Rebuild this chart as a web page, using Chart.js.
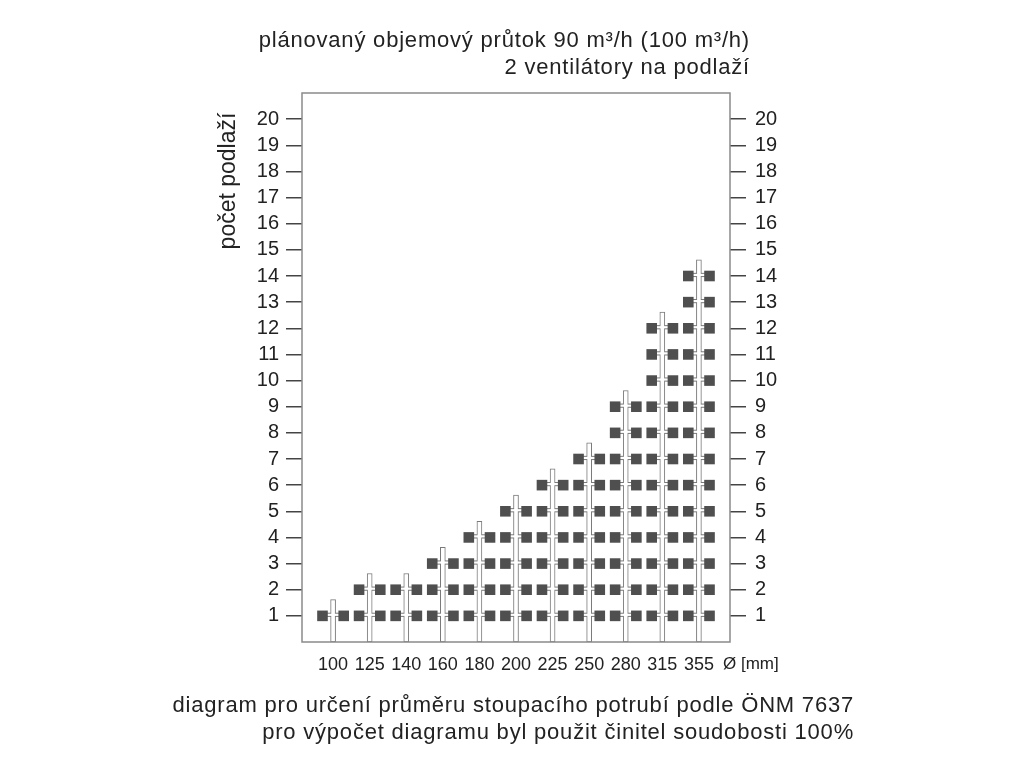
<!DOCTYPE html>
<html lang="cs">
<head>
  <meta charset="UTF-8">
  <title>Diagram stoupacího potrubí</title>
  <script src="https://cdn.jsdelivr.net/npm/chart.js"></script>
  <style>
    body { margin: 0; background: #fff; }
    #wrap { position: relative; width: 1024px; height: 768px; }
    canvas { position: absolute; left: 0; top: 0; }
    .txt {
      position: absolute; font-family: 'Liberation Sans', Arial, sans-serif;
      font-size: 22px; letter-spacing: 0.8px; color: #222; text-align: right; line-height: 27px; white-space: nowrap;
    }
  </style>
</head>
<body>
<div id="wrap">
  <canvas id="chart" width="1024" height="768"></canvas>
  <div class="txt" style="right:274px; top:26px;">plánovaný objemový průtok 90 m³/h (100 m³/h)<br>2 ventilátory na podlaží</div>
  <div class="txt" style="right:170px; top:691px;">diagram pro určení průměru stoupacího potrubí podle ÖNM 7637<br>pro výpočet diagramu byl použit činitel soudobosti 100%</div>
</div>

<script>
  // průměry potrubí a počet podlaží pro každý průměr
  const diameters = [100, 125, 140, 160, 180, 200, 225, 250, 280, 315, 355];
  const floors = [1, 2, 2, 3, 4, 5, 6, 7, 9, 12, 14];
  const pipeExtra = 0.62;  // přesah potrubí nad poslední podlaží
  const yTicks = [1, 2, 3, 4, 5, 6, 7, 8, 9, 10, 11, 12, 13, 14, 15, 16, 17, 18, 19, 20];

  const side = 0.29; // vzdálenost ventilátoru od osy potrubí (v jednotkách osy x)

  const pipes = diameters.map((d, i) => ({ x: i, y: [0, floors[i] + pipeExtra] }));
  const fans = [];
  const joints = [];
  diameters.forEach((d, i) => {
    for (let f = 1; f <= floors[i]; f++) {
      fans.push({ x: i - side, y: f });
      fans.push({ x: i + side, y: f });
      joints.push({ x: i, y: f + 0.04 });
    }
  });

  const fontFam = "'Liberation Sans', Arial, sans-serif";

  const extraText = {
    id: 'extraText',
    afterDraw(chart) {
      const { ctx, chartArea } = chart;
      ctx.save();
      // rámeček
      ctx.strokeStyle = '#8a8a8a';
      ctx.lineWidth = 1.5;
      ctx.strokeRect(chartArea.left, chartArea.top, chartArea.right - chartArea.left, chartArea.bottom - chartArea.top);
      ctx.fillStyle = '#222';
      ctx.font = '17px ' + fontFam;
      ctx.textBaseline = 'middle';
      ctx.textAlign = 'left';
      ctx.fillText('Ø [mm]', chartArea.right - 7, chartArea.bottom + 22);
      ctx.translate(chartArea.left - 73, chartArea.top + 88);
      ctx.rotate(-Math.PI / 2);
      ctx.textAlign = 'center';
      ctx.font = '23px ' + fontFam;
      ctx.fillText('počet podlaží', 0, 0);
      ctx.restore();
    }
  };

  const yAxis = (pos) => ({
    type: 'linear',
    position: pos,
    min: 0,
    max: 21,
    afterBuildTicks: s => { s.ticks = yTicks.map(v => ({ value: v })); },
    afterFit: s => { s.width = 60; },
    grid: { drawOnChartArea: false, drawTicks: true, tickLength: 16, color: '#444', lineWidth: 1.5 },
    border: { display: false },
    ticks: { color: '#222', font: { family: fontFam, size: 20 }, padding: pos === 'left' ? 7 : 9 }
  });

  new Chart(document.getElementById('chart'), {
    type: 'bar',
    data: {
      datasets: [
        {
          type: 'scatter', data: fans, order: 0,
          pointStyle: 'rect', pointRadius: 7.5, backgroundColor: '#4f4f4f', borderColor: '#4f4f4f', borderWidth: 0
        },
        {
          type: 'scatter', data: joints, order: 1,
          pointStyle: 'line', pointRadius: 9, borderColor: '#fff', borderWidth: 2.2
        },
        {
          type: 'bar', data: pipes, order: 2,
          backgroundColor: '#fff', borderColor: '#7a7a7a', borderWidth: 1, barThickness: 5, borderSkipped: false
        },
        {
          type: 'scatter', data: joints, order: 3,
          pointStyle: 'line', pointRadius: 9, borderColor: '#7a7a7a', borderWidth: 4.2
        }
      ]
    },
    options: {
      responsive: false,
      animation: false,
      layout: { padding: { left: 242, right: 234, top: 93, bottom: 86 } },
      plugins: { legend: { display: false }, tooltip: { enabled: false } },
      scales: {
        x: {
          type: 'linear',
          min: -0.85,
          max: 10.85,
          offset: false,
          afterBuildTicks: s => { s.ticks = diameters.map((d, i) => ({ value: i })); },
          afterFit: s => { s.height = 40; },
          grid: { display: false },
          border: { display: false },
          ticks: { color: '#222', font: { family: fontFam, size: 18 }, padding: 4, maxRotation: 0, callback: v => diameters[v] }
        },
        y: yAxis('left'),
        y2: yAxis('right')
      }
    },
    plugins: [extraText]
  });
</script>
</body>
</html>
